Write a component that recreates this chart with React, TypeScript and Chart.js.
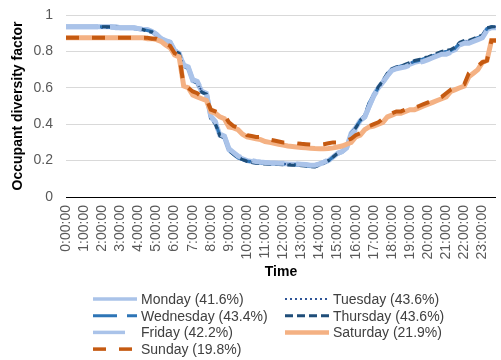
import { useEffect, useRef } from 'react';
import { Chart, registerables } from 'chart.js';

Chart.register(...registerables);

// Quarter-hour time slots, labelled on every full hour
const TIME_LABELS: string[] = [];
for (let h = 0; h < 24; h++) {
  for (let m = 0; m < 60; m += 15) {
    TIME_LABELS.push(`${h}:${String(m).padStart(2, '0')}:00`);
  }
}

const DAYS = ['Monday', 'Tuesday', 'Wednesday', 'Thursday', 'Friday', 'Saturday', 'Sunday'];
const SHARES = ['41.6%', '43.6%', '43.4%', '43.6%', '42.2%', '21.9%', '19.8%'];

const MONDAY = [
  0.935, 0.935, 0.935, 0.935, 0.935, 0.935, 0.935, 0.935,
  0.935, 0.935, 0.935, 0.935, 0.93, 0.93, 0.93, 0.93,
  0.925, 0.92, 0.92, 0.91, 0.89, 0.87, 0.855, 0.85,
  0.8, 0.79, 0.72, 0.71, 0.64, 0.63, 0.58, 0.57,
  0.44, 0.41, 0.34, 0.33, 0.26, 0.24, 0.22, 0.21,
  0.2, 0.195, 0.19, 0.19, 0.188, 0.186, 0.185, 0.184,
  0.183, 0.182, 0.18, 0.18, 0.178, 0.176, 0.172, 0.172,
  0.18, 0.19, 0.2, 0.22, 0.24, 0.25, 0.27, 0.35,
  0.38, 0.42, 0.44, 0.5, 0.56, 0.6, 0.63, 0.67,
  0.7, 0.71, 0.715, 0.72, 0.73, 0.74, 0.745, 0.75,
  0.76, 0.77, 0.78, 0.79, 0.79, 0.8, 0.81, 0.84,
  0.85, 0.85, 0.86, 0.87, 0.88, 0.92, 0.93, 0.93,
];

const TUESDAY = [
  0.935, 0.935, 0.935, 0.935, 0.935, 0.935, 0.93, 0.93,
  0.93, 0.93, 0.93, 0.93, 0.93, 0.93, 0.925, 0.925,
  0.92, 0.92, 0.915, 0.91, 0.89, 0.87, 0.855, 0.845,
  0.8, 0.79, 0.72, 0.71, 0.645, 0.63, 0.58, 0.57,
  0.44, 0.41, 0.345, 0.33, 0.26, 0.24, 0.22, 0.21,
  0.2, 0.195, 0.19, 0.188, 0.186, 0.185, 0.184, 0.183,
  0.182, 0.181, 0.18, 0.178, 0.176, 0.174, 0.17, 0.17,
  0.178, 0.19, 0.2, 0.22, 0.24, 0.25, 0.27, 0.35,
  0.38, 0.42, 0.44, 0.51, 0.56, 0.6, 0.63, 0.67,
  0.7, 0.71, 0.72, 0.725, 0.735, 0.745, 0.75, 0.755,
  0.765, 0.775, 0.785, 0.795, 0.8, 0.805, 0.815, 0.845,
  0.855, 0.855, 0.865, 0.875, 0.885, 0.925, 0.935, 0.935,
];

const WEDNESDAY = [
  0.935, 0.935, 0.935, 0.935, 0.935, 0.935, 0.935, 0.935,
  0.935, 0.935, 0.93, 0.93, 0.93, 0.93, 0.93, 0.925,
  0.925, 0.92, 0.915, 0.91, 0.89, 0.875, 0.855, 0.85,
  0.8, 0.785, 0.72, 0.705, 0.64, 0.625, 0.575, 0.565,
  0.435, 0.405, 0.34, 0.325, 0.255, 0.235, 0.215, 0.205,
  0.198, 0.193, 0.188, 0.186, 0.185, 0.184, 0.183, 0.182,
  0.18, 0.18, 0.178, 0.176, 0.174, 0.172, 0.168, 0.168,
  0.178, 0.188, 0.2, 0.22, 0.24, 0.25, 0.27, 0.35,
  0.38, 0.42, 0.45, 0.52, 0.56, 0.6, 0.635, 0.675,
  0.7, 0.71, 0.72, 0.725, 0.735, 0.745, 0.75, 0.76,
  0.765, 0.775, 0.785, 0.795, 0.8, 0.805, 0.82, 0.845,
  0.855, 0.86, 0.865, 0.875, 0.885, 0.925, 0.935, 0.935,
];

const THURSDAY = [
  0.935, 0.935, 0.935, 0.935, 0.935, 0.935, 0.935, 0.935,
  0.935, 0.935, 0.935, 0.935, 0.93, 0.93, 0.93, 0.93,
  0.925, 0.92, 0.91, 0.905, 0.89, 0.87, 0.855, 0.85,
  0.8, 0.79, 0.72, 0.71, 0.64, 0.625, 0.575, 0.565,
  0.43, 0.4, 0.335, 0.325, 0.255, 0.235, 0.215, 0.205,
  0.195, 0.19, 0.185, 0.183, 0.181, 0.18, 0.179, 0.178,
  0.177, 0.176, 0.175, 0.174, 0.172, 0.17, 0.166, 0.165,
  0.175, 0.186, 0.2, 0.22, 0.24, 0.25, 0.27, 0.35,
  0.38, 0.42, 0.45, 0.52, 0.56, 0.605, 0.64, 0.68,
  0.705, 0.715, 0.72, 0.73, 0.74, 0.75, 0.755, 0.765,
  0.77, 0.78, 0.79, 0.8, 0.805, 0.81, 0.825, 0.85,
  0.86, 0.86, 0.87, 0.88, 0.89, 0.93, 0.935, 0.935,
];

const FRIDAY = [
  0.935, 0.935, 0.935, 0.935, 0.935, 0.935, 0.935, 0.935,
  0.935, 0.935, 0.935, 0.93, 0.93, 0.93, 0.93, 0.93,
  0.925, 0.92, 0.92, 0.91, 0.895, 0.87, 0.86, 0.85,
  0.805, 0.795, 0.725, 0.715, 0.645, 0.635, 0.585, 0.575,
  0.445, 0.415, 0.345, 0.335, 0.265, 0.245, 0.225, 0.215,
  0.205, 0.2, 0.195, 0.192, 0.19, 0.188, 0.187, 0.186,
  0.185, 0.184, 0.182, 0.181, 0.18, 0.178, 0.175, 0.175,
  0.182, 0.192, 0.205, 0.225, 0.24, 0.25, 0.27, 0.34,
  0.37, 0.42, 0.44, 0.5, 0.555, 0.595, 0.63, 0.665,
  0.695, 0.705, 0.71, 0.715, 0.725, 0.735, 0.74, 0.745,
  0.755, 0.765, 0.775, 0.785, 0.785, 0.795, 0.805, 0.835,
  0.845, 0.845, 0.855, 0.865, 0.875, 0.915, 0.925, 0.925,
];

const SATURDAY = [
  0.875, 0.875, 0.875, 0.875, 0.875, 0.875, 0.875, 0.875,
  0.875, 0.875, 0.875, 0.875, 0.875, 0.875, 0.875, 0.875,
  0.875, 0.875, 0.87, 0.87, 0.865, 0.855, 0.835, 0.82,
  0.78, 0.77, 0.61, 0.6, 0.56, 0.55, 0.54, 0.53,
  0.47, 0.46, 0.44, 0.43, 0.385, 0.38, 0.37, 0.345,
  0.33, 0.325, 0.32, 0.315, 0.305, 0.3, 0.295, 0.29,
  0.285, 0.28, 0.278, 0.275, 0.272, 0.27, 0.268, 0.266,
  0.265, 0.265, 0.266, 0.27, 0.275, 0.28, 0.29, 0.3,
  0.33, 0.34, 0.37, 0.385, 0.39, 0.4, 0.41, 0.44,
  0.45, 0.46, 0.46, 0.47, 0.48, 0.48, 0.49, 0.5,
  0.51, 0.52, 0.53, 0.54, 0.55, 0.58, 0.59, 0.6,
  0.61, 0.66, 0.68, 0.7, 0.74, 0.75, 0.86, 0.86,
];

const SUNDAY = [
  0.875, 0.875, 0.875, 0.875, 0.875, 0.875, 0.875, 0.875,
  0.875, 0.875, 0.875, 0.875, 0.875, 0.875, 0.875, 0.875,
  0.875, 0.875, 0.875, 0.87, 0.87, 0.86, 0.84, 0.83,
  0.79, 0.78, 0.61, 0.6, 0.58, 0.57, 0.55, 0.54,
  0.48, 0.47, 0.46, 0.45, 0.41, 0.39, 0.38, 0.37,
  0.34, 0.335, 0.33, 0.33, 0.32, 0.315, 0.31, 0.305,
  0.3, 0.3, 0.298, 0.295, 0.292, 0.29, 0.288, 0.287,
  0.287, 0.29, 0.295, 0.3, 0.3, 0.305, 0.31, 0.32,
  0.34, 0.35, 0.38, 0.39, 0.4, 0.41, 0.43, 0.45,
  0.46, 0.47, 0.47, 0.48, 0.48, 0.49, 0.5, 0.51,
  0.52, 0.53, 0.54, 0.55, 0.57, 0.59, 0.6, 0.61,
  0.62, 0.68, 0.7, 0.72, 0.74, 0.75, 0.86, 0.86,
];

const SERIES = [MONDAY, TUESDAY, WEDNESDAY, THURSDAY, FRIDAY, SATURDAY, SUNDAY];

// Line styling per day: colour, width on the plot, dash pattern, width in the key
const STYLES = [
  { color: '#aac3e9', width: 5, dash: [] as number[], keyWidth: 3.5 },
  { color: '#2f5597', width: 2, dash: [2, 3], keyWidth: 2 },
  { color: '#2e75b6', width: 3, dash: [24, 10], keyWidth: 3 },
  { color: '#1f4e79', width: 3, dash: [8, 4], keyWidth: 3 },
  { color: '#aac3e9', width: 5, dash: [32, 12], keyWidth: 3.5 },
  { color: '#f4b183', width: 5, dash: [] as number[], keyWidth: 4.5 },
  { color: '#c55a11', width: 4, dash: [13, 13], keyWidth: 3.5 },
];

const FONT = '"Liberation Sans", Arial, sans-serif';

// Two-column key drawn beneath the axis title
const KEY_COLS = [93, 285];
const KEY_TOP = 299;
const KEY_ROW = 16.7;
const KEY_LINE = 44;

const keyPlugin = {
  id: 'twoColumnKey',
  afterDraw(chart: any) {
    const ctx = chart.ctx as CanvasRenderingContext2D;
    ctx.save();
    ctx.font = `14px ${FONT}`;
    ctx.textBaseline = 'middle';
    ctx.textAlign = 'left';
    chart.data.datasets.forEach((ds: any, i: number) => {
      const st = STYLES[i];
      const x = KEY_COLS[i % 2];
      const y = KEY_TOP + Math.floor(i / 2) * KEY_ROW;
      ctx.beginPath();
      ctx.setLineDash(st.dash);
      ctx.lineWidth = st.keyWidth;
      ctx.strokeStyle = st.color;
      ctx.lineCap = 'butt';
      ctx.moveTo(x, y);
      ctx.lineTo(x + KEY_LINE, y);
      ctx.stroke();
      ctx.setLineDash([]);
      ctx.fillStyle = '#404040';
      ctx.fillText(ds.label, x + KEY_LINE + 4, y + 1);
    });
    ctx.restore();
  },
};

export default function App() {
  const canvasRef = useRef<HTMLCanvasElement | null>(null);

  useEffect(() => {
    if (!canvasRef.current) return;
    const chart = new Chart(canvasRef.current, {
      type: 'line',
      data: {
        labels: TIME_LABELS,
        datasets: SERIES.map((values, i) => ({
          label: `${DAYS[i]} (${SHARES[i]})`,
          data: values,
          borderColor: STYLES[i].color,
          borderWidth: STYLES[i].width,
          borderDash: STYLES[i].dash,
          pointRadius: 0,
          tension: 0,
          fill: false,
          order: SERIES.length - i,
        })),
      },
      options: {
        responsive: false,
        animation: false,
        devicePixelRatio: 1,
        layout: { padding: { left: 10, right: 5, top: 15, bottom: 79 } },
        plugins: {
          legend: { display: false },
          tooltip: { enabled: false },
        },
        scales: {
          x: {
            type: 'category',
            grid: { display: false, drawTicks: false },
            border: { display: false },
            ticks: {
              autoSkip: false,
              minRotation: 90,
              maxRotation: 90,
              padding: 8,
              color: '#595959',
              font: { family: FONT, size: 14 },
              callback(this: any, value: any, index: number) {
                return index % 4 === 0 ? this.getLabelForValue(value) : null;
              },
            },
            title: {
              display: true,
              text: 'Time',
              color: '#000',
              padding: 0,
              font: { family: FONT, size: 14, weight: 'bold' },
            },
            afterFit(scale: any) {
              scale.height = 84;
              scale.paddingLeft = 0;
              scale.paddingRight = 0;
            },
          },
          y: {
            min: 0,
            max: 1,
            grid: {
              drawTicks: false,
              color: (c: any) => (c.tick && c.tick.value === 0 ? '#000000' : '#d9d9d9'),
              lineWidth: 1,
            },
            border: { display: false },
            ticks: {
              stepSize: 0.2,
              padding: 13,
              color: '#595959',
              font: { family: FONT, size: 14 },
              callback: (v: any) => String(Number(Number(v).toFixed(1))),
            },
            title: {
              display: true,
              text: 'Occupant diversity factor',
              color: '#000',
              padding: 0,
              font: { family: FONT, size: 14, weight: 'bold' },
            },
            afterFit(scale: any) {
              scale.width = 56;
              scale.paddingTop = 0;
              scale.paddingBottom = 0;
            },
          },
        },
      },
      plugins: [keyPlugin],
    } as any);
    return () => chart.destroy();
  }, []);

  return (
    <div style={{ position: 'absolute', left: 0, top: 0, width: 501, height: 360, background: '#fff' }}>
      <canvas ref={canvasRef} width={501} height={360} style={{ display: 'block' }} />
    </div>
  );
}
